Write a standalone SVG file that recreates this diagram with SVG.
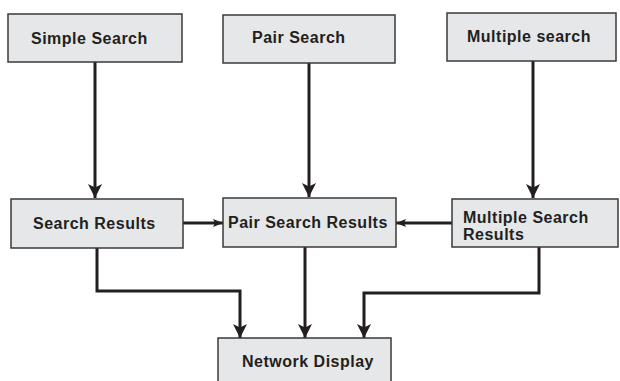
<svg xmlns="http://www.w3.org/2000/svg" width="620" height="381" viewBox="0 0 620 381">
  <style>
    .box { fill: #e6e7e8; stroke: #3a3a3a; stroke-width: 1.5; }
    .lbl { font-family: "Liberation Sans", Arial, sans-serif; font-size: 16px; font-weight: bold; fill: #231f20; letter-spacing: 0.5px; }
    .wire { fill: none; stroke: #231f20; stroke-width: 3; }
  </style>
  <defs>
    <marker id="big" viewBox="0 0 14 16" refX="14" refY="7" markerWidth="14" markerHeight="16" markerUnits="userSpaceOnUse" orient="auto">
      <path d="M0,0 L16,7 L0,14 L4,7 Z" fill="#231f20" transform="scale(0.875,1)"/>
    </marker>
    <marker id="small" viewBox="0 0 10 8" refX="10" refY="4" markerWidth="10" markerHeight="8" markerUnits="userSpaceOnUse" orient="auto">
      <path d="M0,0 L10,4 L0,8 L2,4 Z" fill="#231f20"/>
    </marker>
  </defs>
  <rect width="620" height="381" fill="#ffffff"/>

  <g id="connectors">
    <line class="wire" x1="95" y1="62" x2="95" y2="198" marker-end="url(#big)"/>
    <line class="wire" x1="309" y1="63" x2="309" y2="197" marker-end="url(#big)"/>
    <line class="wire" x1="533" y1="61" x2="533" y2="198" marker-end="url(#big)"/>
    <line class="wire" x1="183" y1="223" x2="223" y2="223" stroke-width="2.5" marker-end="url(#small)"/>
    <line class="wire" x1="452" y1="223" x2="396" y2="223" stroke-width="2.5" marker-end="url(#small)"/>
    <polyline class="wire" points="97,248 97,291 240,291 240,338" marker-end="url(#big)"/>
    <line class="wire" x1="305" y1="247" x2="305" y2="338" marker-end="url(#big)"/>
    <polyline class="wire" points="539,247 539,293 364,293 364,338" marker-end="url(#big)"/>
  </g>

  <g id="simple-search">
    <rect class="box" x="8" y="14" width="174" height="48"/>
    <text class="lbl" x="31" y="44">Simple Search</text>
  </g>
  <g id="pair-search">
    <rect class="box" x="223" y="15" width="172" height="48"/>
    <text class="lbl" x="252" y="43">Pair Search</text>
  </g>
  <g id="multiple-search">
    <rect class="box" x="447" y="13" width="169" height="48"/>
    <text class="lbl" x="467" y="42">Multiple search</text>
  </g>
  <g id="search-results">
    <rect class="box" x="11" y="199" width="172" height="49"/>
    <text class="lbl" x="33" y="229">Search Results</text>
  </g>
  <g id="pair-search-results">
    <rect class="box" x="223" y="198" width="173" height="49"/>
    <text class="lbl" x="228" y="228">Pair Search Results</text>
  </g>
  <g id="multiple-search-results">
    <rect class="box" x="452" y="199" width="166" height="48"/>
    <text class="lbl" x="463" y="223">Multiple Search</text>
    <text class="lbl" x="463" y="240">Results</text>
  </g>
  <g id="network-display">
    <rect class="box" x="218" y="338" width="173" height="60"/>
    <text class="lbl" x="242" y="367">Network Display</text>
  </g>
</svg>
